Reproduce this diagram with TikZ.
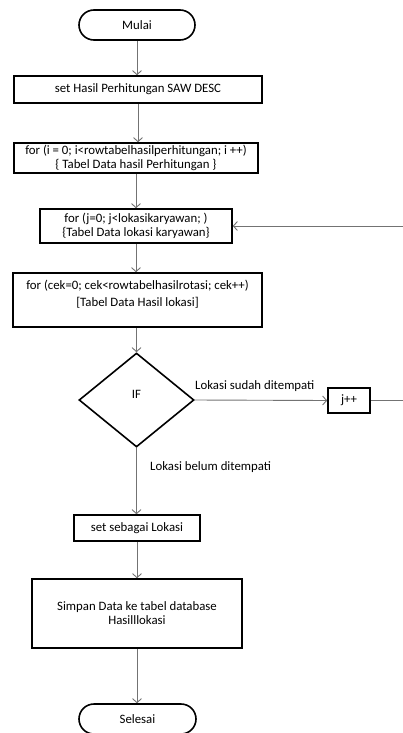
\documentclass[tikz,border=0pt]{standalone}
\usepackage{fontspec}
\setmainfont{Carlito}
\usetikzlibrary{shapes.geometric,arrows.meta}
\begin{document}
\begin{tikzpicture}[x=1pt,y=-1pt,
  every node/.style={font=\fontsize{12.8}{14}\selectfont, inner sep=0pt},
  procbox/.style={draw=black, line width=1.6pt, rectangle, align=center},
  termbox/.style={draw=black, line width=1.6pt, rectangle, rounded corners=15pt, minimum height=30pt},
  decbox/.style={draw=black, line width=1.6pt, diamond, minimum width=115pt, minimum height=94pt},
  flow/.style={draw=black!55, line width=0.9pt, -{Straight Barb[length=4pt,width=9pt]}},
  flowline/.style={draw=black!55, line width=0.9pt},
  lbl/.style={anchor=west}]
\useasboundingbox (0,0) rectangle (403,733);
\node[termbox, minimum width=116pt] (start) at (137,25) {Mulai};
\node[procbox, minimum width=248pt, minimum height=27pt] (b1) at (138,89.5) {set Hasil Perhitungan SAW DESC};
\node[procbox, minimum width=244pt, minimum height=30pt] (b2) at (136,158) {for (i = 0; i<rowtabelhasilperhitungan; i ++)\\ \{ Tabel Data hasil Perhitungan \}};
\node[procbox, minimum width=192pt, minimum height=34pt] (b3) at (136,226) {for (j=0; j<lokasikaryawan; )\\ \{Tabel Data lokasi karyawan\}};
\node[procbox, minimum width=249pt, minimum height=54pt] (b4) at (137.5,300) {for (cek=0; cek<rowtabelhasilrotasi; cek++)\\[3pt] \lbrack Tabel Data Hasil lokasi\rbrack\\ \mbox{}};
\node[decbox] (if) at (136.5,400) {\raisebox{12pt}{IF}};
\node[procbox, minimum width=42pt, minimum height=25pt] (jpp) at (349,400.5) {j++};
\node[procbox, minimum width=126pt, minimum height=26pt] (b5) at (137,528) {set sebagai Lokasi};
\node[procbox, minimum width=210pt, minimum height=69pt] (b6) at (137,613.5) {Simpan Data ke tabel database\\ Hasilllokasi};
\node[termbox, minimum width=117pt] (stop) at (137.5,719) {Selesai};
\node[lbl] (ls) at (195,386) {Lokasi sudah ditempati};
\node[lbl] (lb) at (150,467) {Lokasi belum ditempati};
\coordinate (loop) at (412,400.5);
\draw[flow] (start) -- (start |- b1.north);
\draw[flow] (b1) -- (b1 |- b2.north);
\draw[flow] (b2) -- (b2 |- b3.north);
\draw[flow] (b3) -- (b3 |- b4.north);
\draw[flow] (if |- b4.south) -- (if.north);
\draw[flow] (if.east) -- (jpp.west);
\draw[flowline] (jpp.east) -- (loop);
\draw[flow] (loop) |- (b3.east);
\draw[flow] (if.south) -- (if |- b5.north);
\draw[flow] (b5) -- (b5 |- b6.north);
\draw[flow] (b6) -- (b6 |- stop.north);
\end{tikzpicture}
\end{document}
